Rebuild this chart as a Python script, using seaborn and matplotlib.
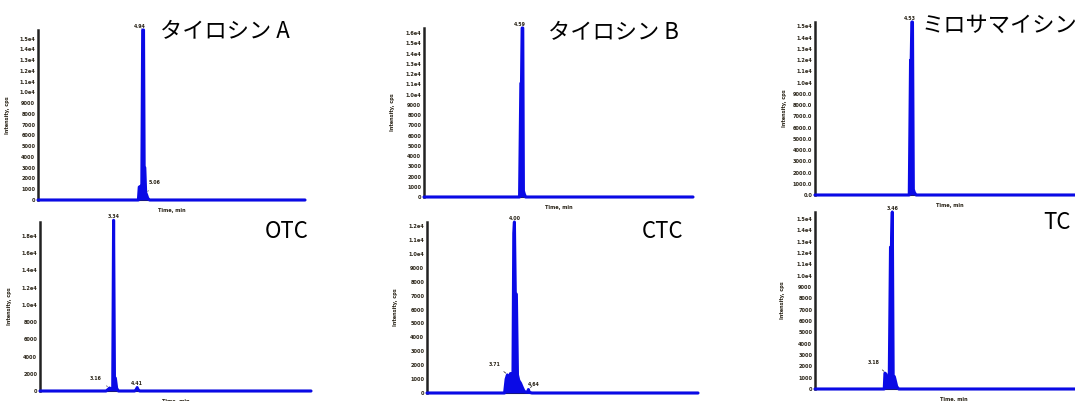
import matplotlib
matplotlib.use("Agg")
import matplotlib.pyplot as plt
import seaborn as sns

sns.set_style("white")
plt.rcParams['font.family'] = ['Noto Sans CJK JP', 'DejaVu Sans']

W, H = 1075, 401
blue = "#0a0ae6"

names = ["タイロシン A", "タイロシン B", "ミロサマイシン", "OTC", "CTC", "TC"]

# chromatogram traces (time in min, intensity in cps)
t_tya = [0.0, 4.70, 4.74, 4.78, 4.86, 4.90, 4.94, 4.97, 5.00, 5.04, 5.08, 5.14, 5.22, 12.5]
i_tya = [0, 0, 1200, 1250, 1300, 15800, 15800, 3100, 3000, 700, 500, 150, 0, 0]

t_tyb = [0.0, 4.44, 4.50, 4.53, 4.56, 4.59, 4.62, 4.66, 4.72, 12.5]
i_tyb = [0, 0, 11100, 11100, 16500, 16500, 600, 300, 0, 0]

t_mir = [0.0, 4.38, 4.44, 4.47, 4.50, 4.53, 4.57, 4.62, 4.70, 12.5]
i_mir = [0, 0, 12000, 12000, 15400, 15400, 500, 200, 0, 0]

t_otc = [0.0, 3.00, 3.10, 3.16, 3.22, 3.30, 3.34, 3.38, 3.42, 3.48, 3.56, 4.30, 4.38, 4.41, 4.44, 4.52, 12.3]
i_otc = [0, 0, 200, 350, 200, 200, 19800, 1500, 1500, 300, 0, 0, 200, 400, 200, 0, 0]

t_ctc = [0.0, 3.20, 3.55, 3.62, 3.68, 3.71, 3.76, 3.82, 3.88, 3.93, 3.97, 4.00, 4.04, 4.09, 4.14, 4.20, 4.28, 4.36, 4.45, 4.60, 4.64, 4.68, 4.80, 12.4]
i_ctc = [0, 0, 0, 1000, 1300, 900, 400, 1400, 900, 300, 11500, 12300, 7200, 7100, 1300, 900, 700, 400, 100, 50, 250, 50, 0, 0]

t_tc = [0.0, 2.90, 3.10, 3.13, 3.18, 3.22, 3.27, 3.32, 3.38, 3.42, 3.46, 3.50, 3.55, 3.60, 3.66, 3.75, 12.4]
i_tc = [0, 0, 0, 1400, 1300, 1000, 400, 200, 12500, 12500, 15600, 1000, 1100, 700, 200, 0, 0]

times = [t_tya, t_tyb, t_mir, t_otc, t_ctc, t_tc]
intens = [i_tya, i_tyb, i_mir, i_otc, i_ctc, i_tc]
xmaxes = [12.5, 12.5, 12.5, 12.3, 12.4, 12.4]
ymaxes = [15800, 16500, 15400, 19600, 12300, 15600]
ysteps = [1000, 1000, 1000, 2000, 1000, 1000]
ynticks = [16, 17, 16, 10, 13, 16]
yfmt = ["plain", "plain", "dec", "plain", "plain", "plain"]

# peak labels: (time, intensity, text, dx, dy) offsets in points
peak_labels = [
    [(4.94, 15800, "4.94", -3, 1), (5.06, 600, "5.06", 6, 6)],
    [(4.59, 16500, "4.59", -2, 1)],
    [(4.53, 15400, "4.53", -2, 1)],
    [(3.34, 19800, "3.34", 0, 1), (3.16, 350, "3.16", -10, 5), (4.41, 400, "4.41", 0, 1)],
    [(4.00, 12300, "4.00", 0, 1), (3.71, 1300, "3.71", -10, 6), (4.64, 250, "4.64", 4, 2)],
    [(3.46, 15600, "3.46", 0, 1), (3.18, 1400, "3.18", -9, 6)],
]

# axes boxes in pixels: left, top, right, bottom
boxes = [(38, 30, 305, 200), (424, 28, 693, 197), (815, 22, 1084, 195),
         (40, 222, 311, 391), (427, 222, 698, 393), (815, 212, 1092, 389)]
ylabel_x = [10, 395, 787, 12, 398, 785]

# title positions (left x, center y) in pixels
title_pos = [(160, 32), (548, 33), (922, 25), (265, 231), (642, 231), (1043, 222)]

fig = plt.figure(figsize=(W / 100, H / 100), dpi=100)

for k in range(6):
    l, t, r, b = boxes[k]
    ax = fig.add_axes([l / W, 1 - b / H, (r - l) / W, (b - t) / H])
    ax.fill_between(times[k], intens[k], color=blue, lw=0, zorder=4)
    sns.lineplot(x=times[k], y=intens[k], ax=ax, color=blue, lw=2.2,
                 estimator=None, sort=False, clip_on=False, zorder=5)
    ax.set_xlim(0, xmaxes[k])
    ax.set_ylim(0, ymaxes[k])
    ax.set_xticks(range(1, int(xmaxes[k]) + 1))
    ax.set_xticklabels([])
    yt = [ysteps[k] * j for j in range(ynticks[k])]
    ax.set_yticks(yt)
    labs = []
    for v in yt:
        if v >= 10000:
            labs.append(f"{v / 10000:.1f}e4")
        elif yfmt[k] == "dec":
            labs.append(f"{v:.1f}")
        else:
            labs.append(f"{v}")
    ax.set_yticklabels(labs, fontsize=3.6, fontweight="bold", color="#2a2418",
                       family="DejaVu Sans")
    ax.tick_params(axis="y", length=0, pad=2)
    ax.tick_params(axis="x", length=2.5, width=0.8, direction="out", color="#222", pad=1)
    for s in ["top", "right"]:
        ax.spines[s].set_visible(False)
    ax.spines["left"].set_color("#222")
    ax.spines["left"].set_linewidth(1.8)
    ax.spines["bottom"].set_color("#222")
    ax.spines["bottom"].set_linewidth(1.5)
    ax.set_xlabel("Time, min", fontsize=3.6, fontweight="bold", color="#2a2418",
                  family="DejaVu Sans", labelpad=2)
    ax.set_ylabel("Intensity, cps", fontsize=3.6, fontweight="bold", color="#2a2418",
                  family="DejaVu Sans")
    ax.yaxis.set_label_coords((ylabel_x[k] - l) / (r - l), 0.5)
    ax.grid(False)
    for (pt, pi, txt, dx, dy) in peak_labels[k]:
        if abs(dx) > 2:
            ax.annotate(txt, xy=(pt, pi), xytext=(dx, dy), textcoords="offset points",
                        fontsize=3.4, fontweight="bold", color="#2a2418",
                        family="DejaVu Sans", ha="center", va="bottom",
                        arrowprops=dict(arrowstyle="-", lw=0.5, color="#222"),
                        annotation_clip=False)
        else:
            ax.annotate(txt, xy=(pt, pi), xytext=(dx, dy), textcoords="offset points",
                        fontsize=3.4, fontweight="bold", color="#2a2418",
                        family="DejaVu Sans", ha="center", va="bottom",
                        annotation_clip=False)
    tx, ty = title_pos[k]
    fig.text(tx / W, 1 - ty / H, names[k], fontsize=16, ha="left", va="center",
             color="black")

fig.savefig("out.png", dpi=100)
